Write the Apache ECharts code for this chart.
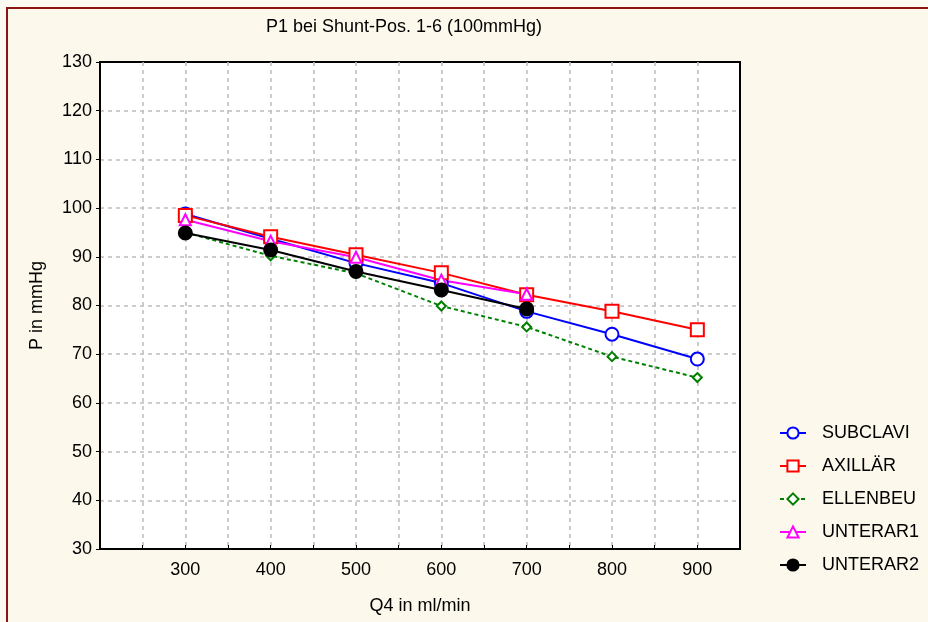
<!DOCTYPE html>
<html>
<head>
<meta charset="utf-8">
<script src="https://cdn.jsdelivr.net/npm/echarts@6/dist/echarts.min.js"></script>
<style>
  html, body { margin: 0; padding: 0; background: #fdfaf2; }
  #chart { width: 928px; height: 622px; }
</style>
</head>
<body>
<div id="chart"></div>
<script>
// Flow rates (ml/min) at which pressure P1 was measured
const flow = [300, 400, 500, 600, 700, 800, 900];

// Pressure P1 (mmHg) per shunt position
const subclavi = [98.8, 93.7, 88.7, 84.6, 78.8, 74.1, 69.0];
const axillaer = [98.5, 94.1, 90.4, 86.7, 82.2, 78.8, 75.0];
const ellenbeu = [95.0, 90.2, 86.6, 79.9, 75.6, 69.5, 65.2];
const unterar1 = [97.6, 93.2, 89.9, 85.2, 82.3];
const unterar2 = [94.9, 91.4, 87.0, 83.2, 79.3];

const seriesNames = ['SUBCLAVI', 'AXILLÄR', 'ELLENBEU', 'UNTERAR1', 'UNTERAR2'];

const xTicksLabelled = [300, 400, 500, 600, 700, 800, 900];

const FONT = 'Liberation Sans, Arial, sans-serif';
const FS = 18;

function pairs(values) {
  return values.map((v, i) => [flow[i], v]);
}

function lineSeries(name, values, color, symbol, size, fill, dashed) {
  return {
    name: name,
    type: 'line',
    data: pairs(values),
    symbol: symbol,
    symbolSize: size,
    showSymbol: true,
    lineStyle: { color: color, width: 2, type: dashed ? [4, 3] : 'solid' },
    itemStyle: { color: fill, borderColor: color, borderWidth: 2 },
    emphasis: { disabled: true },
    animation: false,
    z: 3
  };
}

const gridLine = { color: '#bdbdbd', width: 1.5, type: [4, 4] };

const chart = echarts.init(document.getElementById('chart'), null, { renderer: 'canvas' });

chart.setOption({
  backgroundColor: '#fdfaf2',
  animation: false,
  graphic: [
    {
      type: 'rect',
      shape: { x: 7, y: 8, width: 1000, height: 1000 },
      style: { fill: '#fdf8ec', stroke: '#8b1414', lineWidth: 2 },
      z: -10
    }
  ],
  title: {
    text: 'P1 bei Shunt-Pos. 1-6 (100mmHg)',
    left: 399,
    top: 13,
    textAlign: 'center',
    textStyle: { fontFamily: FONT, fontSize: FS, fontWeight: 'normal', color: '#000' }
  },
  grid: {
    left: 100, top: 62, right: 188, bottom: 73,
    show: true,
    backgroundColor: '#ffffff',
    borderColor: '#000',
    borderWidth: 2
  },
  legend: {
    orient: 'vertical',
    left: 774,
    top: 419,
    itemWidth: 26,
    itemHeight: 14,
    itemGap: 15,
    data: seriesNames,
    textStyle: { fontFamily: FONT, fontSize: FS, color: '#000', padding: [0, 0, 0, 11] }
  },
  xAxis: {
    type: 'value',
    min: 200,
    max: 950,
    interval: 50,
    name: 'Q4 in ml/min',
    nameLocation: 'middle',
    nameGap: 48,
    nameTextStyle: { fontFamily: FONT, fontSize: FS, color: '#000' },
    axisLine: { show: true, lineStyle: { color: '#000', width: 2 } },
    axisTick: { show: true, inside: true, length: 4, lineStyle: { color: '#000' } },
    axisLabel: {
      fontFamily: FONT, fontSize: FS, color: '#000', margin: 12,
      formatter: v => (xTicksLabelled.indexOf(v) >= 0 ? String(v) : '')
    },
    splitLine: { show: true, showMinLine: false, showMaxLine: false, lineStyle: gridLine }
  },
  yAxis: {
    type: 'value',
    min: 30,
    max: 130,
    interval: 10,
    name: 'P in mmHg',
    nameLocation: 'middle',
    nameGap: 54,
    nameRotate: 90,
    nameTextStyle: { fontFamily: FONT, fontSize: FS, color: '#000' },
    axisLine: { show: true, lineStyle: { color: '#000', width: 2 } },
    axisTick: { show: true, inside: false, length: 4, lineStyle: { color: '#000' } },
    axisLabel: { fontFamily: FONT, fontSize: FS, color: '#000', margin: 8 },
    splitLine: { show: true, showMinLine: false, showMaxLine: false, lineStyle: gridLine }
  },
  series: [
    lineSeries('SUBCLAVI', subclavi, '#0000ff', 'circle', 13, '#ffffff', false),
    lineSeries('AXILLÄR', axillaer, '#ff0000', 'rect', 13, '#ffffff', false),
    lineSeries('ELLENBEU', ellenbeu, '#008000', 'diamond', 9, '#ffffff', true),
    lineSeries('UNTERAR1', unterar1, '#ff00ff', 'triangle', 11, '#ffffff', false),
    lineSeries('UNTERAR2', unterar2, '#000000', 'circle', 13, '#000000', false)
  ]
});
</script>
</body>
</html>
